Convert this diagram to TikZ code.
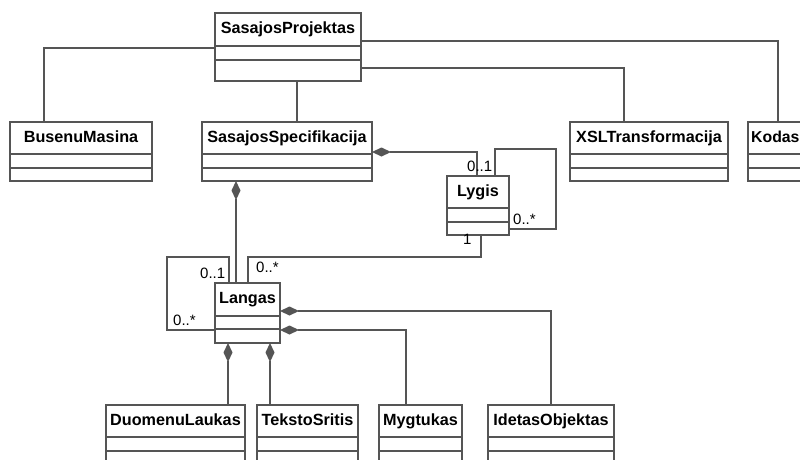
\documentclass[tikz,border=0pt]{standalone}
\usepackage{fontspec}
\setmainfont{Liberation Sans}
\usetikzlibrary{arrows.meta}
\definecolor{ln}{RGB}{85,85,85}
\tikzset{
  ln/.style={draw=ln,line width=1.2pt},
  classbox/.style={ln,fill=white,rectangle,inner sep=0pt,outer sep=0pt},
  classname/.style={inner sep=0pt,font=\fontsize{16.2}{19}\selectfont\bfseries},
  mult/.style={inner sep=0pt,anchor=base west,font=\fontsize{15}{18}\selectfont},
  conn/.style={ln},
  comp/.style={ln,{Diamond[length=19pt,width=9pt,fill=ln]}-}
}
\newcommand\umlclass[8]{%
  \pgfmathsetmacro\cw{#4-#2}\pgfmathsetmacro\ch{#5-#3}%
  \node[classbox,minimum width=\cw pt,minimum height=\ch pt,anchor=north west] (#1) at (#2,#3) {};
  \draw[ln] (#2,#6) -- (#4,#6) (#2,#7) -- (#4,#7);
  \node[classname,anchor=base] (#1-t) at ({(#2+#4)/2},{#3+20}) {#8};
}
\begin{document}
\begin{tikzpicture}[x=1pt,y=-1pt]
\useasboundingbox (0,0) rectangle (800,459);
\clip (0,0) rectangle (800,459);
\umlclass{proj}{215}{13}{361}{81}{46}{60}{SasajosProjektas}
\umlclass{busenu}{10}{122}{152}{181}{154}{168}{BusenuMasina}
\umlclass{spec}{202}{122}{372}{181}{154}{168}{SasajosSpecifikacija}
\umlclass{xsl}{570}{122}{728}{181}{154}{168}{XSLTransformacija}
\umlclass{kodas}{748}{122}{860}{181}{154}{168}{}
\node[classname,anchor=base west,font=\fontsize{15.8}{19}\selectfont\bfseries] (kodas-n) at (751,142) {Kodas};
\umlclass{lygis}{447}{176}{509}{235}{208}{222}{Lygis}
\umlclass{langas}{215}{283}{280}{343}{316}{329}{Langas}
\umlclass{duomenu}{106}{405}{245}{480}{437}{451}{DuomenuLaukas}
\umlclass{teksto}{257}{405}{358}{480}{437}{451}{TekstoSritis}
\umlclass{mygtukas}{379}{405}{462}{480}{437}{451}{Mygtukas}
\umlclass{idetas}{488}{405}{614}{480}{437}{451}{IdetasObjektas}

\draw[conn] ([yshift=-35pt]proj.north west) -| ([xshift=34pt]busenu.north west);
\draw[conn] ([yshift=-28pt]proj.north east) -| ([xshift=30pt]kodas.north west);
\draw[conn] ([yshift=-55pt]proj.north east) -| ([xshift=54pt]xsl.north west);
\draw[conn] ([xshift=82pt]proj.south west) -- ([xshift=95pt]spec.north west);
\draw[comp] ([yshift=-30pt]spec.north east) -| ([xshift=30pt]lygis.north west);
\draw[conn] ([xshift=48pt]lygis.north west) -- ++(0,-27) -- ++(61,0) -- ++(0,80) -- ([yshift=-53pt]lygis.north east);
\draw[conn] ([xshift=34pt]lygis.south west) -- ++(0,22) -| ([xshift=33pt]langas.north west);
\draw[comp] ([xshift=34pt]spec.south west) -- ([xshift=21pt]langas.north west);
\draw[conn] ([xshift=14pt]langas.north west) -- ++(0,-26) -- ++(-62,0) -- ++(0,73) -- ([yshift=-47pt]langas.north west);
\draw[comp] ([yshift=-28pt]langas.north east) -| ([xshift=63pt]idetas.north west);
\draw[comp] ([yshift=-47pt]langas.north east) -| ([xshift=27pt]mygtukas.north west);
\draw[comp] ([xshift=13pt]langas.south west) -- ([xshift=122pt]duomenu.north west);
\draw[comp] ([xshift=55pt]langas.south west) -- ([xshift=13pt]teksto.north west);

\node[mult] (m1) at (467,171) {0..1};
\node[mult] (m2) at (513,224) {0..*};
\node[mult] (m3) at (463,244) {1};
\node[mult] (m4) at (256,272) {0..*};
\node[mult] (m5) at (200,278) {0..1};
\node[mult] (m6) at (173,325) {0..*};
\end{tikzpicture}
\end{document}
